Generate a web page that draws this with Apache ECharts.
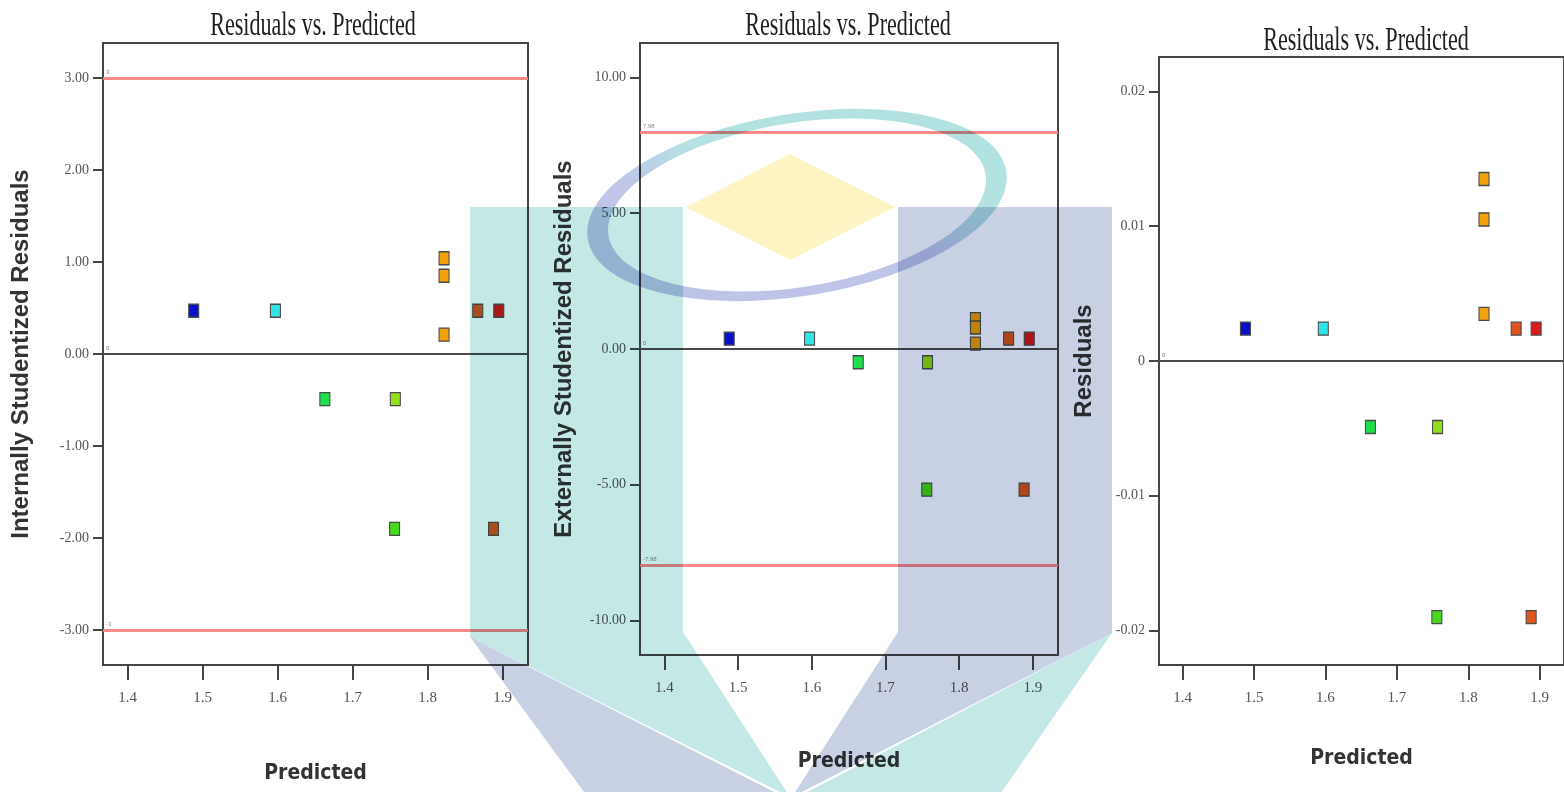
<!DOCTYPE html>
<html>
<head>
<meta charset="utf-8">
<script src="https://cdn.jsdelivr.net/npm/echarts@6/dist/echarts.min.js"></script>
<style>
  html, body { margin: 0; padding: 0; background: #fff; }
  #chart { width: 1564px; height: 792px; }
</style>
</head>
<body>
<div id="chart"></div>
<script>
// Design runs: predicted response and three kinds of residuals
const predicted         = [1.488, 1.597, 1.663, 1.757, 1.756, 1.822, 1.822, 1.822, 1.867, 1.895, 1.888];
const internalResiduals = [0.47, 0.47, -0.49, -0.49, -1.90, 1.04, 0.85, 0.21, 0.47, 0.47, -1.90];
const externalResiduals = [0.38, 0.38, -0.49, -0.49, -5.18, 1.10, 0.79, 0.20, 0.38, 0.38, -5.18];
const rawResiduals      = [0.0024, 0.0024, -0.0049, -0.0049, -0.0190, 0.0135, 0.0105, 0.0035, 0.0024, 0.0024, -0.0190];
const pointColors = ['#0a10c8', '#30e4e4', '#1ee04a', '#92e01c', '#46d81c', '#f2a20a', '#f2a20a', '#f2a20a', '#de561e', '#da1c1c', '#de561e'];

// Axis ticks and limit lines
const xTicks = [1.4, 1.5, 1.6, 1.7, 1.8, 1.9];
const internalTicks = [-3, -2, -1, 0, 1, 2, 3];
const externalTicks = [-10, -5, 0, 5, 10];
const rawTicks = [-0.02, -0.01, 0, 0.01, 0.02];
const internalLimits = [3, -3];
const externalLimits = [7.98, -7.98];

const panelTitle = 'Residuals vs. Predicted';
const yNames = ['Internally Studentized Residuals', 'Externally Studentized Residuals', 'Residuals'];
const xName = 'Predicted';

const axisColor = '#454545';
const redLine = { color: '#ff7b7b', width: 3, type: 'solid', opacity: 0.9 };
const zeroLine = { color: '#4a4a4a', width: 2, type: 'solid' };

const grids = [
  { left: 103, top: 43, width: 425, height: 622 },
  { left: 640, top: 43, width: 418, height: 612 },
  { left: 1159, top: 57, width: 417, height: 608 }
].map(g => Object.assign(g, { show: true, borderColor: axisColor, borderWidth: 2, backgroundColor: 'transparent' }));

function xAxis(i, gap) {
  return {
    type: 'value', gridIndex: i, min: 1.367, max: 1.934,
    name: xName, nameLocation: 'middle', nameGap: gap,
    nameTextStyle: { fontFamily: "'Liberation Sans Narrow', 'DejaVu Sans Condensed', sans-serif", fontWeight: 'bold', fontSize: 21, color: '#333' },
    axisLine: { show: true, onZero: false, lineStyle: { color: axisColor, width: 2 } },
    axisTick: { show: true, customValues: xTicks, length: 15, lineStyle: { color: axisColor, width: 2 } },
    axisLabel: { customValues: xTicks, fontFamily: 'Liberation Serif', fontSize: 15, color: '#555', margin: 26, formatter: v => v.toFixed(1) },
    splitLine: { show: false }
  };
}

function yAxis(i, min, max, ticks, fmt, name, gap) {
  return {
    type: 'value', gridIndex: i, min: min, max: max,
    name: name, nameLocation: 'middle', nameGap: gap, nameRotate: 90,
    nameTextStyle: { fontFamily: 'Liberation Sans', fontWeight: 'bold', fontSize: 24, color: '#333' },
    axisLine: { show: true, onZero: false, lineStyle: { color: axisColor, width: 2 } },
    axisTick: { show: true, customValues: ticks, length: 10, lineStyle: { color: axisColor, width: 2 } },
    axisLabel: { customValues: ticks, fontFamily: 'Liberation Serif', fontSize: 14, color: '#555', margin: 14, formatter: fmt },
    splitLine: { show: false }
  };
}

function limitLines(limits, labels) {
  const data = [{ yAxis: 0, lineStyle: zeroLine, label: { formatter: labels[0] } }];
  limits.forEach((v, k) => data.push({ yAxis: v, lineStyle: redLine, label: { formatter: labels[k + 1] } }));
  return {
    silent: true, symbol: ['none', 'none'], animation: false,
    label: { position: 'insideStartTop', fontSize: 6, color: '#777', distance: 3 },
    data: data
  };
}

function scatter(i, values, mark) {
  return {
    type: 'scatter', xAxisIndex: i, yAxisIndex: i,
    symbol: 'rect', symbolSize: [10, 13],
    data: predicted.map((x, k) => ({ value: [x, values[k]], itemStyle: { color: pointColors[k] } })),
    itemStyle: { borderColor: '#4a4a4a', borderWidth: 1.2, opacity: 1 },
    markLine: mark,
    z: 3
  };
}

// Faded emblem laid over the plots (multiplied so the marks stay visible)
const teal = '#c4e8e6';
const blue = '#c8d0e4';
const yellow = '#fdf4c4';
function poly(points, fill) {
  return { type: 'polygon', silent: true, z: 100, shape: { points: points }, style: { fill: fill, blend: 'multiply' } };
}
const emblem = [
  poly([[470, 207], [683, 207], [683, 632], [790, 797], [470, 637]], teal),
  poly([[470, 637], [790, 800], [590, 800]], blue),
  poly([[898, 207], [1112, 207], [1112, 633], [792, 797], [898, 632]], blue),
  poly([[1112, 633], [792, 800], [996, 800]], teal),
  {
    type: 'ring', silent: true, z: 100,
    x: 797, y: 205, rotation: 0.16, scaleY: 0.43,
    shape: { cx: 0, cy: 0, r: 212, r0: 191 },
    style: {
      blend: 'multiply',
      fill: new echarts.graphic.LinearGradient(0, 1, 1, 0, [
        { offset: 0, color: '#bcc2e6' },
        { offset: 0.45, color: '#c0c6e8' },
        { offset: 0.6, color: '#b4e2e2' },
        { offset: 1, color: '#b0e0e0' }
      ])
    }
  },
  poly([[686, 207], [790, 154], [895, 207], [790, 260]], yellow)
];

const titles = [313, 848, 1366].map((cx, i) => ({
  type: 'text', x: cx, y: i === 2 ? 25 : 10, scaleX: 0.67, z: 10,
  style: { text: panelTitle, font: '33px "Liberation Serif"', fill: '#1e1e1e', textAlign: 'center', textVerticalAlign: 'top' }
}));

const chart = echarts.init(document.getElementById('chart'), null, { renderer: 'canvas' });
chart.setOption({
  animation: false,
  backgroundColor: '#fff',
  grid: grids,
  xAxis: [xAxis(0, 98), xAxis(1, 96), xAxis(2, 83)],
  yAxis: [
    yAxis(0, -3.38, 3.38, internalTicks, v => v.toFixed(2), yNames[0], 70),
    yAxis(1, -11.27, 11.27, externalTicks, v => v.toFixed(2), yNames[1], 64),
    yAxis(2, -0.02255, 0.02255, rawTicks, v => (v === 0 ? '0' : v.toFixed(2)), yNames[2], 63)
  ],
  series: [
    scatter(0, internalResiduals, limitLines(internalLimits, ['0', '3', '-3'])),
    scatter(1, externalResiduals, limitLines(externalLimits, ['0', '7.98', '-7.98'])),
    scatter(2, rawResiduals, limitLines([], ['0']))
  ],
  graphic: titles.concat(emblem)
});
</script>
</body>
</html>
